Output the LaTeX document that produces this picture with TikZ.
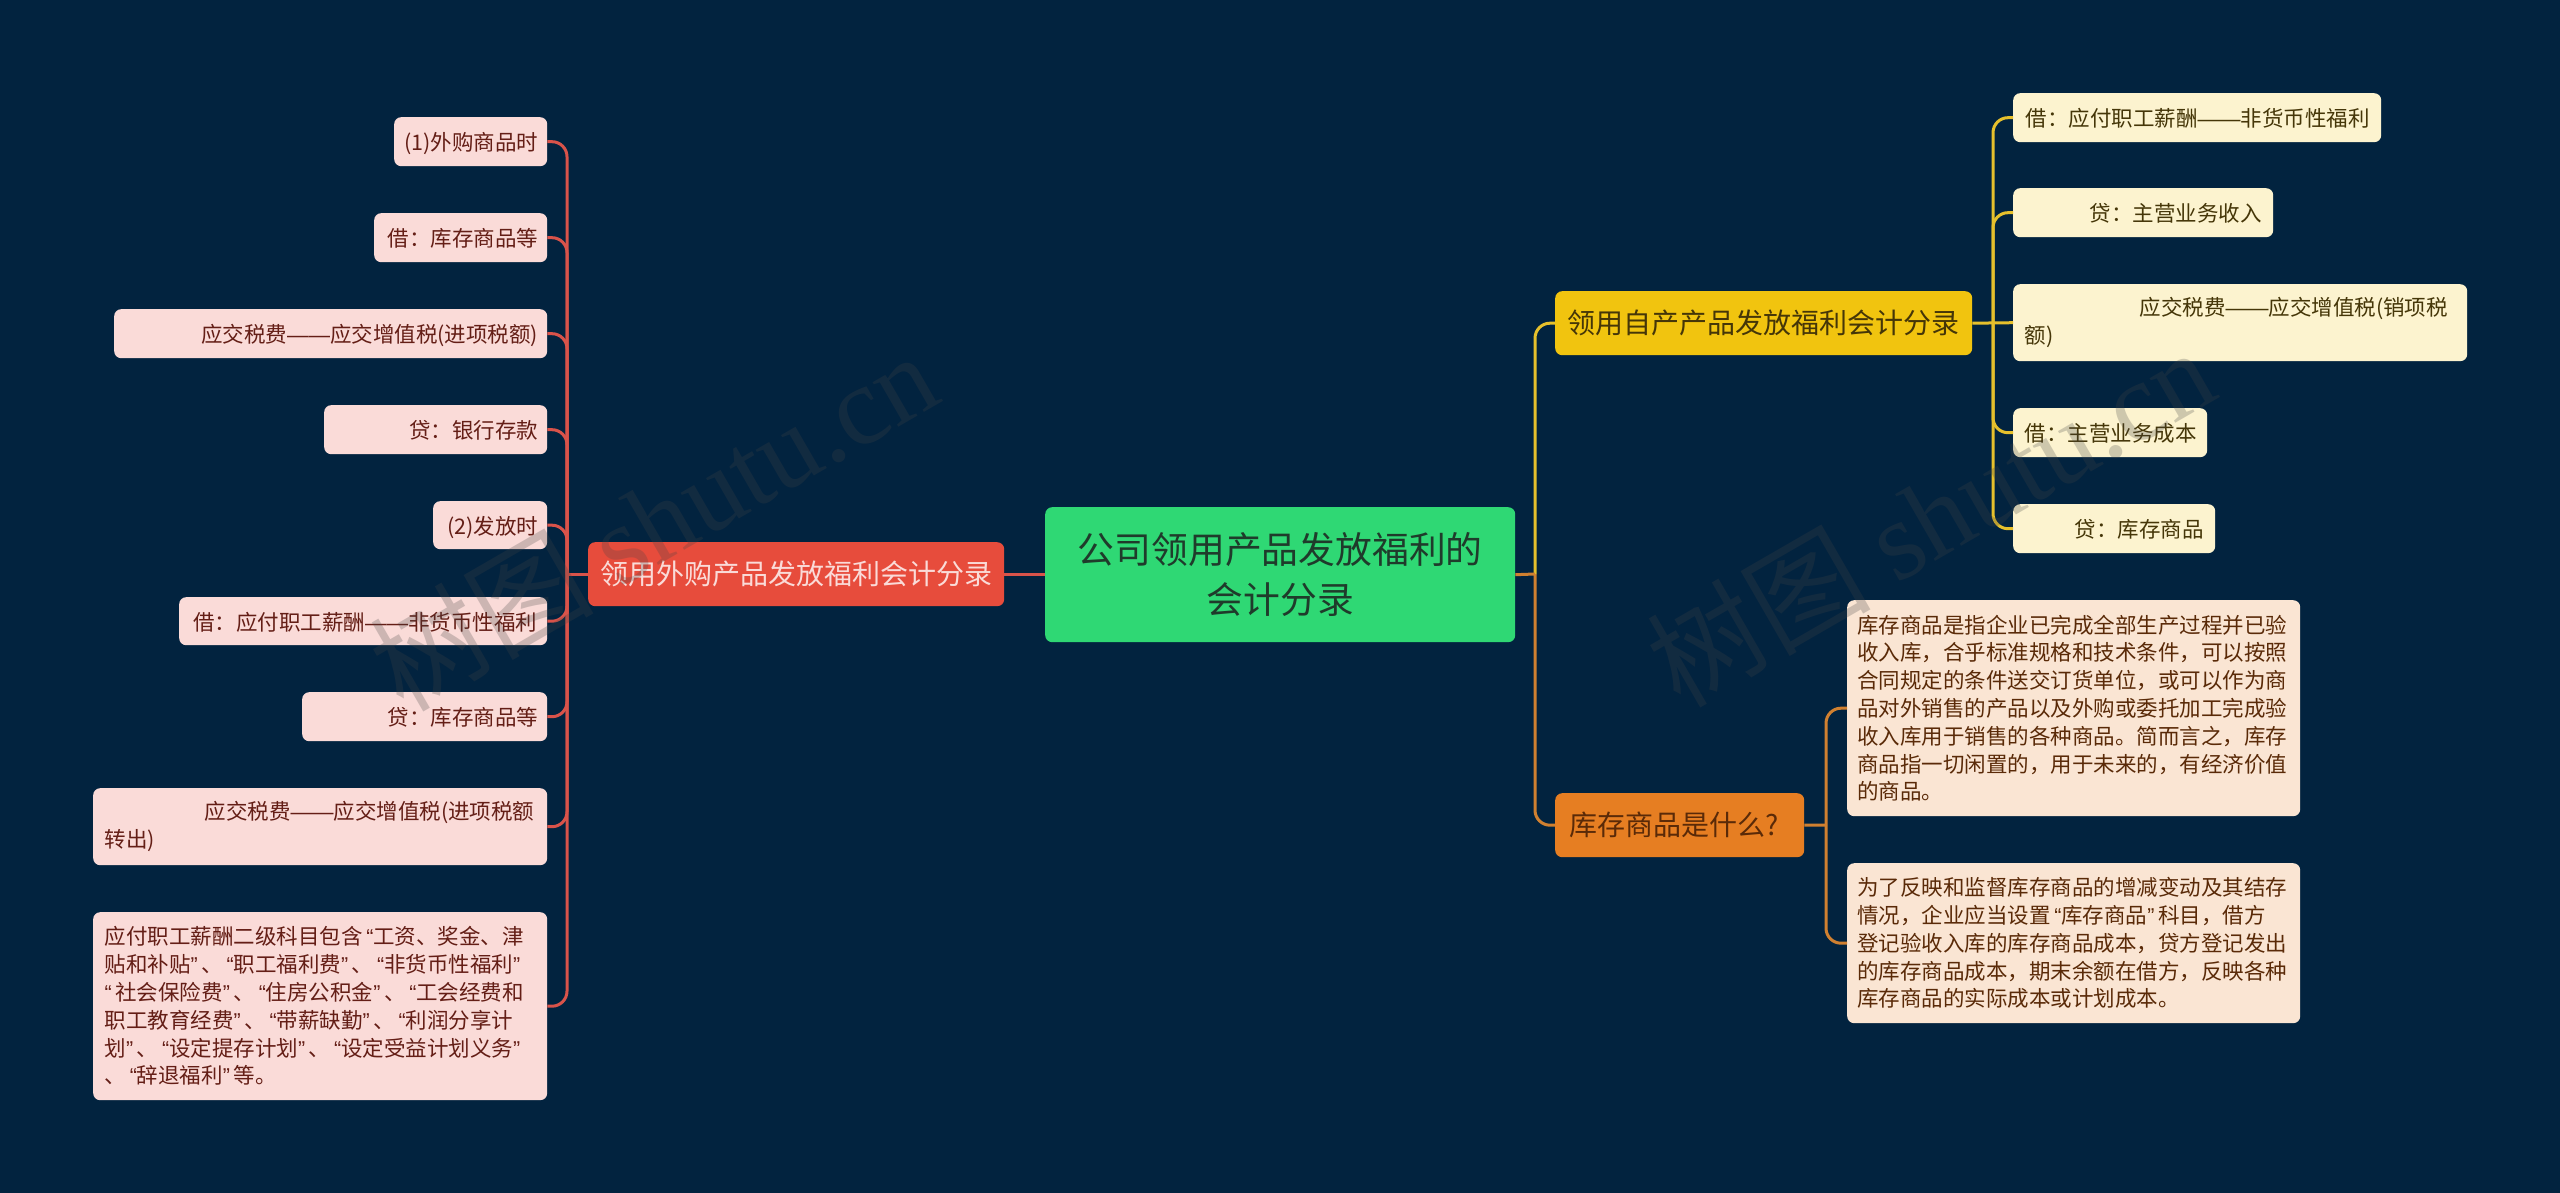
\documentclass[tikz,border=0pt]{standalone}
\usepackage{fontspec}
\setmainfont{Noto Sans CJK SC}
\newfontfamily\markfont{Liberation Serif}
\newfontfamily\latinfont{Liberation Sans}
\newcommand{\qo}{\makebox[.5em][r]{\latinfont “}}
\newcommand{\qs}{\makebox[.5em][l]{\latinfont “}}
\newcommand{\qc}{\makebox[.5em][l]{\latinfont ”}}
\newcommand{\dashes}{{\latinfont ——}}
\definecolor{bgblue}{HTML}{02233F}
\definecolor{rootgreen}{HTML}{2FD874}
\definecolor{rootink}{HTML}{1F3B2B}
\definecolor{redmain}{HTML}{E74C3C}
\definecolor{redline}{HTML}{D9534A}
\definecolor{redtint}{HTML}{FADBD8}
\definecolor{redink}{HTML}{641E16}
\definecolor{yelmain}{HTML}{F1C40F}
\definecolor{yelline}{HTML}{E6C02C}
\definecolor{yeltint}{HTML}{FCF3CF}
\definecolor{yelink}{HTML}{453608}
\definecolor{ormain}{HTML}{E67E22}
\definecolor{orline}{HTML}{D08030}
\definecolor{ortint}{HTML}{FAE5D3}
\definecolor{orink}{HTML}{5A2A08}
\definecolor{markgray}{HTML}{444444}
\tikzset{
  box/.style={rectangle, rounded corners=7pt, inner xsep=0pt, inner ysep=0pt, anchor=north west},
  rootbox/.style={box, fill=rootgreen, text=rootink, font=\fontsize{36.8pt}{50pt}\selectfont, align=center},
  topicbox/.style={box, font=\fontsize{28pt}{34pt}\selectfont, align=left},
  leafbox/.style={box, font=\fontsize{21.5pt}{27.8pt}\selectfont},
  redleaf/.style={leafbox, fill=redtint, text=redink},
  redone/.style={redleaf, text depth=0pt, align=right},
  yelleaf/.style={leafbox, fill=yeltint, text=yelink},
  yelone/.style={yelleaf, text depth=0pt, align=right},
  orleaf/.style={leafbox, fill=ortint, text=orink},
  branch/.style={line width=3pt, rounded corners=15pt},
  stem/.style={line width=3pt},
  sitemark/.style={opacity=0.25, text=markgray, rotate=30, font=\fontsize{112pt}{112pt}\selectfont},
}
\begin{document}
\begin{tikzpicture}[x=1pt, y=-1pt]
    \useasboundingbox[fill=bgblue] (0,0) rectangle (2560,1193);

    \node[rootbox, minimum width=470pt, minimum height=135pt, text width=470pt] (root) at (1045,507) {公司领用产品发放福利的\\会计分录};

    \node[topicbox, fill=redmain, text=redtint, minimum width=416pt, minimum height=64pt, text width=392pt] (redtopic) at (588,542) {领用外购产品发放福利会计分录};
    \node[topicbox, fill=yelmain, text=yelink, minimum width=417pt, minimum height=64pt, text width=393pt] (yeltopic) at (1555,291) {领用自产产品发放福利会计分录};
    \node[topicbox, fill=ormain, text=orink, minimum width=249pt, minimum height=64pt, text width=221pt] (ortopic) at (1555,793) {库存商品是什么?};

    % left side
    \node[redone, minimum width=153pt, minimum height=49pt, text width=135pt] (out1) at (394,117) {(1)外购商品时};
    \node[redone, minimum width=173pt, minimum height=49pt, text width=155pt] (out2) at (374,213) {借：库存商品等};
    \node[redone, minimum width=433pt, minimum height=49pt, text width=415pt] (out3) at (114,309) {应交税费\dashes{}应交增值税(进项税额)};
    \node[redone, minimum width=223pt, minimum height=49pt, text width=205pt] (out4) at (324,405) {贷：银行存款};
    \node[redone, minimum width=114pt, minimum height=48pt, text width=96pt] (out5) at (433,501) {(2)发放时};
    \node[redone, minimum width=368pt, minimum height=48pt, text width=348pt] (out6) at (179,597) {借：应付职工薪酬\dashes{}非货币性福利};
    \node[redone, minimum width=245pt, minimum height=49pt, text width=227pt] (out7) at (302,692) {贷：库存商品等};
    \node[redleaf, minimum width=454pt, minimum height=77pt, text width=431pt, align=left] (out8) at (93,788) {\mbox{\hspace*{100pt}应交税费\dashes{}应交增值税(进项税额}\\转出)};
    \node[redleaf, minimum width=454pt, minimum height=188pt, text width=431pt, align=left] (out9) at (93,912) {应付职工薪酬二级科目包含\qo{}工资、奖金、津\\贴和补贴\qc{}、\qo{}职工福利费\qc{}、\qo{}非货币性福利\qc{}\\\qs{}社会保险费\qc{}、\qo{}住房公积金\qc{}、\qo{}工会经费和\\职工教育经费\qc{}、\qo{}带薪缺勤\qc{}、\qo{}利润分享计\\划\qc{}、\qo{}设定提存计划\qc{}、\qo{}设定受益计划义务\qc{}\\、\qo{}辞退福利\qc{}等。};

    % right side, top
    \node[yelone, minimum width=368pt, minimum height=49pt, text width=345pt] (own1) at (2013,93) {借：应付职工薪酬\dashes{}非货币性福利};
    \node[yelone, minimum width=260pt, minimum height=49pt, text width=237pt] (own2) at (2013,188) {贷：主营业务收入};
    \node[yelleaf, minimum width=454pt, minimum height=77pt, text width=431pt, align=left] (own3) at (2013,284) {\mbox{\hspace*{115pt}应交税费\dashes{}应交增值税(销项税}\\额)};
    \node[yelone, minimum width=194pt, minimum height=49pt, text width=171pt] (own4) at (2013,408) {借：主营业务成本};
    \node[yelone, minimum width=202pt, minimum height=49pt, text width=179pt] (own5) at (2013,504) {贷：库存商品};

    % right side, bottom
    \node[orleaf, minimum width=453pt, minimum height=216pt, text width=433pt, align=left] (stock1) at (1847,600) {库存商品是指企业已完成全部生产过程并已验\\收入库，合乎标准规格和技术条件，可以按照\\合同规定的条件送交订货单位，或可以作为商\\品对外销售的产品以及外购或委托加工完成验\\收入库用于销售的各种商品。简而言之，库存\\商品指一切闲置的，用于未来的，有经济价值\\的商品。};
    \node[orleaf, minimum width=453pt, minimum height=160pt, text width=433pt, align=left] (stock2) at (1847,863) {为了反映和监督库存商品的增减变动及其结存\\情况，企业应当设置\qo{}库存商品\qc{}科目，借方\\登记验收入库的库存商品成本，贷方登记发出\\的库存商品成本，期末余额在借方，反映各种\\库存商品的实际成本或计划成本。};

    \coordinate (lefttrunk) at (567,574);
    \coordinate (righttrunk) at (1535,574);
    \coordinate (owntrunk) at (1993,323);
    \coordinate (stocktrunk) at (1826,825);

    \draw[stem, redline] (root.west |- lefttrunk) -- (redtopic.east |- lefttrunk);
    \draw[stem, redline] (redtopic.west |- lefttrunk) -- (lefttrunk);
    \draw[branch, redline] (lefttrunk) |- (out1.east);
    \draw[branch, redline] (lefttrunk) |- (out2.east);
    \draw[branch, redline] (lefttrunk) |- (out3.east);
    \draw[branch, redline] (lefttrunk) |- (out4.east);
    \draw[branch, redline] (lefttrunk) |- (out5.east);
    \draw[branch, redline] (lefttrunk) |- (out6.east);
    \draw[branch, redline] (lefttrunk) |- (out7.east);
    \draw[branch, redline] (lefttrunk) |- (out8.east);
    \draw[branch, redline] (lefttrunk) |- (out9.east);

    \draw[branch, orline] (righttrunk) |- (ortopic.west);
    \draw[branch, yelline] (righttrunk) |- (yeltopic.west);
    \draw[stem, orline] (root.east) -- (righttrunk);

    \draw[stem, yelline] (yeltopic.east) -- (own3.west);
    \draw[branch, yelline] (owntrunk) |- (own1.west);
    \draw[branch, yelline] (owntrunk) |- (own2.west);
    \draw[branch, yelline] (owntrunk) |- (own4.west);
    \draw[branch, yelline] (owntrunk) |- (own5.west);

    \draw[stem, orline] (ortopic.east) -- (stocktrunk);
    \draw[branch, orline] (stocktrunk) |- (stock1.west);
    \draw[branch, orline] (stocktrunk) |- (stock2.west);

    % faint site mark
    \node[sitemark] (mark1) at (653,520) {树图 {\markfont shutu.cn}};
    \node[sitemark] (mark2) at (1930,516) {树图 {\markfont shutu.cn}};
\end{tikzpicture}
\end{document}
